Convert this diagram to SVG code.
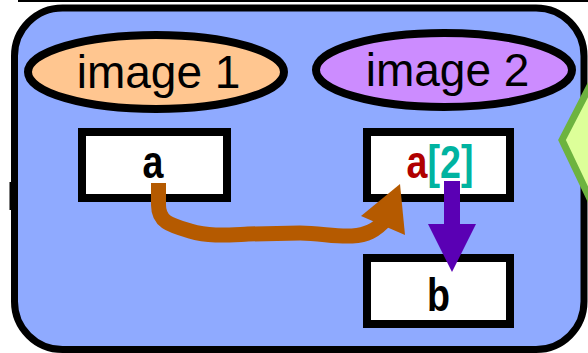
<svg xmlns="http://www.w3.org/2000/svg" width="588" height="353" viewBox="0 0 588 353">
<style>
.ell{stroke:#000;stroke-width:8}
.lbl{font-family:"Liberation Sans",Arial,sans-serif;font-size:46px;fill:#000;text-anchor:middle}
.box{fill:#fff;stroke:#000;stroke-width:8}
.bt{font-family:"Liberation Sans",Arial,sans-serif;font-size:47px;font-weight:bold;text-anchor:middle}
</style>
<line x1="18" y1="1" x2="588" y2="1" stroke="#000" stroke-width="2"/>
<g id="container">
<rect x="14.5" y="8" width="569.5" height="341.5" rx="48" ry="48" fill="#8FAAFF" stroke="#000" stroke-width="7"/>
<rect x="9.5" y="182" width="3" height="28" fill="#000"/>
</g>
<g id="hexagon">
<polygon points="562,140 595,76 650,76 650,205 593,205" fill="#DDFF99" stroke="#6DB33F" stroke-width="7" stroke-linejoin="miter"/>
</g>
<g id="image1">
<ellipse cx="156" cy="72" rx="128" ry="37" fill="#FFC690" class="ell"/>
<text x="158.5" y="88" class="lbl">image 1</text>
</g>
<g id="image2">
<ellipse cx="444" cy="70" rx="128" ry="37" fill="#CC8CFF" class="ell"/>
<text x="447.5" y="86" class="lbl">image 2</text>
</g>
<g id="box-a">
<rect x="82" y="132" width="145" height="66" class="box"/>
<text class="bt" transform="translate(153,178) scale(0.8,1)" fill="#000">a</text>
</g>
<g id="box-a2">
<rect x="367" y="132" width="143" height="66" class="box"/>
<text class="bt" transform="translate(440,178) scale(0.8,1)"><tspan fill="#B00000">a</tspan><tspan fill="#00B3A0">[2]</tspan></text>
</g>
<g id="box-b">
<rect x="367" y="258" width="143" height="66" class="box"/>
<text class="bt" transform="translate(438.5,311) scale(0.8,1)" fill="#000">b</text>
</g>
<g id="connectors">
<path d="M158.5,183 L158.5,205 C158.5,222 170,225 190,231 C210,237 228,235 248,234 L300,233 C320,233 335,237 352,236 C366,235 376,231 386,219" fill="none" stroke="#B55A00" stroke-width="15"/>
<polygon points="400,184 361,216 405,235" fill="#B55A00"/>
<rect x="444" y="181" width="16" height="44" fill="#5A00B4"/>
<polygon points="428,224 476,224 452,272" fill="#5A00B4"/>
</g>
</svg>
